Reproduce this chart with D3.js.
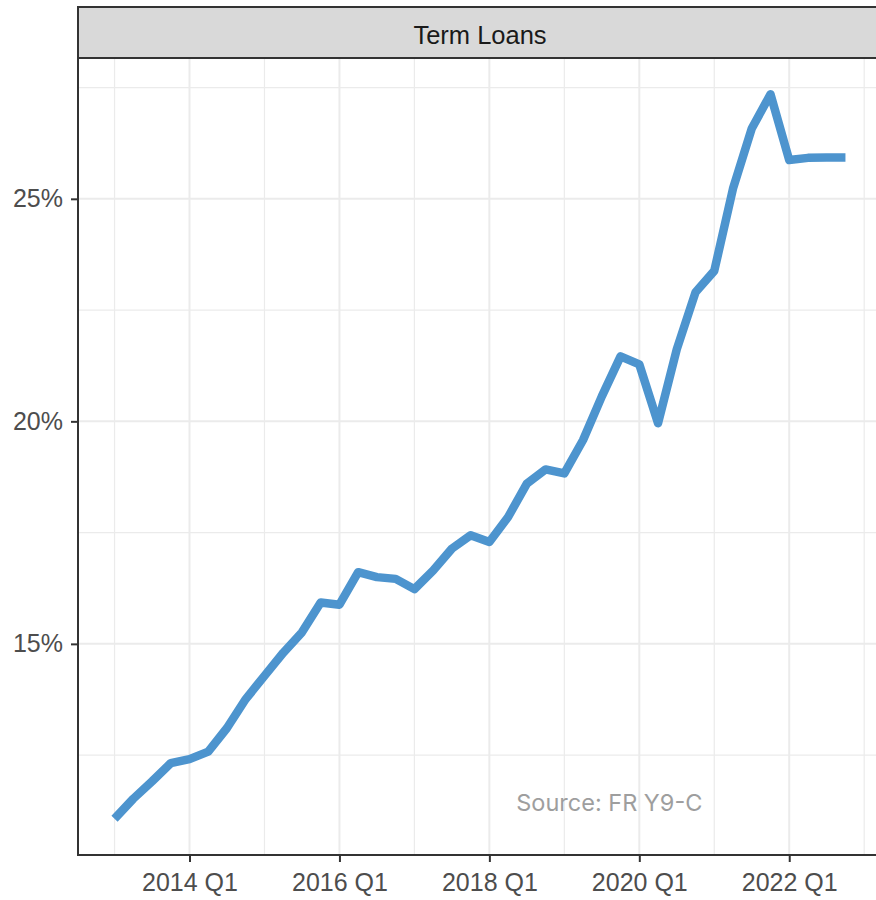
<!DOCTYPE html>
<html>
<head>
<meta charset="utf-8">
<script src="https://cdn.jsdelivr.net/npm/d3@7"></script>
<style>
  body { margin: 0; background: #fff; }
  text { font-family: "Liberation Sans", Arial, sans-serif; }
</style>
</head>
<body>
<div id="chart"></div>
<script>
// quarters (year, quarter) and share of term loans in percent
const years = [2013, 2013, 2013, 2013, 2014, 2014, 2014, 2014, 2015, 2015, 2015, 2015,
	2016, 2016, 2016, 2016, 2017, 2017, 2017, 2017, 2018, 2018, 2018, 2018,
	2019, 2019, 2019, 2019, 2020, 2020, 2020, 2020, 2021, 2021, 2021, 2021,
	2022, 2022, 2022, 2022];
const quarters = [1, 2, 3, 4, 1, 2, 3, 4, 1, 2, 3, 4, 1, 2, 3, 4, 1, 2, 3, 4,
	1, 2, 3, 4, 1, 2, 3, 4, 1, 2, 3, 4, 1, 2, 3, 4, 1, 2, 3, 4];
const termLoans = [11.07, 11.52, 11.91, 12.32, 12.41, 12.58, 13.11, 13.76, 14.28, 14.80, 15.26, 15.93,
	15.88, 16.61, 16.50, 16.46, 16.23, 16.65, 17.14, 17.44, 17.29, 17.85, 18.60, 18.92,
	18.83, 19.58, 20.56, 21.46, 21.28, 19.96, 21.62, 22.90, 23.38, 25.23, 26.58, 27.35,
	25.87, 25.92, 25.93, 25.93];

const xMajor = [2014, 2016, 2018, 2020, 2022];
const xMinor = [2013, 2015, 2017, 2019, 2021, 2023];
const yMajor = [15, 20, 25];
const yMinor = [12.5, 17.5, 22.5, 27.5];

const data = termLoans.map((v, i) => ({ t: years[i] + (quarters[i] - 1) / 4, v: v }));

const width = 876, height = 900;
const panel = { left: 78, right: 882, top: 58, bottom: 855 };

const svg = d3.select("#chart")
	.append("svg")
	.attr("width", width)
	.attr("height", height);

// ggplot style 5% expansion
const tExt = d3.extent(data, d => d.t);
const vExt = d3.extent(data, d => d.v);
const tPad = (tExt[1] - tExt[0]) * 0.05;
const vPad = (vExt[1] - vExt[0]) * 0.05;

const x = d3.scaleLinear()
	.domain([tExt[0] - tPad, tExt[1] + tPad])
	.range([panel.left, panel.right]);

const y = d3.scaleLinear()
	.domain([vExt[0] - vPad, vExt[1] + vPad])
	.range([panel.bottom, panel.top]);

const grid = svg.append("g");

grid.selectAll(".xminor")
	.data(xMinor)
	.enter()
	.append("line")
	.attr("x1", d => x(d)).attr("x2", d => x(d))
	.attr("y1", panel.top).attr("y2", panel.bottom)
	.attr("stroke", "#ebebeb").attr("stroke-width", 1.2);

grid.selectAll(".yminor")
	.data(yMinor)
	.enter()
	.append("line")
	.attr("x1", panel.left).attr("x2", panel.right)
	.attr("y1", d => y(d)).attr("y2", d => y(d))
	.attr("stroke", "#ebebeb").attr("stroke-width", 1.2);

grid.selectAll(".xmajor")
	.data(xMajor)
	.enter()
	.append("line")
	.attr("x1", d => x(d)).attr("x2", d => x(d))
	.attr("y1", panel.top).attr("y2", panel.bottom)
	.attr("stroke", "#ebebeb").attr("stroke-width", 2);

grid.selectAll(".ymajor")
	.data(yMajor)
	.enter()
	.append("line")
	.attr("x1", panel.left).attr("x2", panel.right)
	.attr("y1", d => y(d)).attr("y2", d => y(d))
	.attr("stroke", "#ebebeb").attr("stroke-width", 2);

const line = d3.line()
	.x(d => x(d.t))
	.y(d => y(d.v));

svg.append("path")
	.datum(data)
	.attr("d", line)
	.attr("fill", "none")
	.attr("stroke", "#4d94ce")
	.attr("stroke-width", 8.5)
	.attr("stroke-linejoin", "round")
	.attr("stroke-linecap", "butt");

svg.append("text")
	.attr("x", x(2019.6))
	.attr("y", y(11.4))
	.attr("text-anchor", "middle")
	.attr("dominant-baseline", "middle")
	.attr("fill", "#9e9e9e")
	.style("font-family", "Inter, 'Liberation Sans', sans-serif")
	.style("font-size", "23.5px")
	.text("Source: FR Y9-C");

// axes
const xAxis = svg.append("g")
	.attr("transform", `translate(0,${panel.bottom})`)
	.call(d3.axisBottom(x)
		.tickValues(xMajor)
		.tickSize(7)
		.tickPadding(11)
		.tickFormat(d => d + " Q1"));

const yAxis = svg.append("g")
	.attr("transform", `translate(${panel.left},0)`)
	.call(d3.axisLeft(y)
		.tickValues(yMajor)
		.tickSize(7)
		.tickPadding(8)
		.tickFormat(d => d + "%"));

[xAxis, yAxis].forEach(a => {
	a.select(".domain").remove();
	a.selectAll(".tick line").attr("stroke", "#333").attr("stroke-width", 2);
	a.selectAll(".tick text")
		.attr("fill", "#4d4d4d")
		.style("font-size", "25px");
});

svg.append("line")
	.attr("x1", panel.left).attr("x2", panel.left)
	.attr("y1", panel.top).attr("y2", panel.bottom + 1)
	.attr("stroke", "#333").attr("stroke-width", 2);

svg.append("line")
	.attr("x1", panel.left - 1).attr("x2", panel.right)
	.attr("y1", panel.bottom).attr("y2", panel.bottom)
	.attr("stroke", "#333").attr("stroke-width", 2);

// facet strip
svg.append("rect")
	.attr("x", panel.left)
	.attr("y", 7)
	.attr("width", panel.right - panel.left)
	.attr("height", panel.top - 7)
	.attr("fill", "#d9d9d9")
	.attr("stroke", "#333")
	.attr("stroke-width", 2);

svg.append("text")
	.attr("x", (panel.left + panel.right) / 2)
	.attr("y", (7 + panel.top) / 2 + 2)
	.attr("text-anchor", "middle")
	.attr("dominant-baseline", "central")
	.attr("fill", "#1a1a1a")
	.style("font-size", "25.5px")
	.text("Term Loans");
</script>
</body>
</html>
